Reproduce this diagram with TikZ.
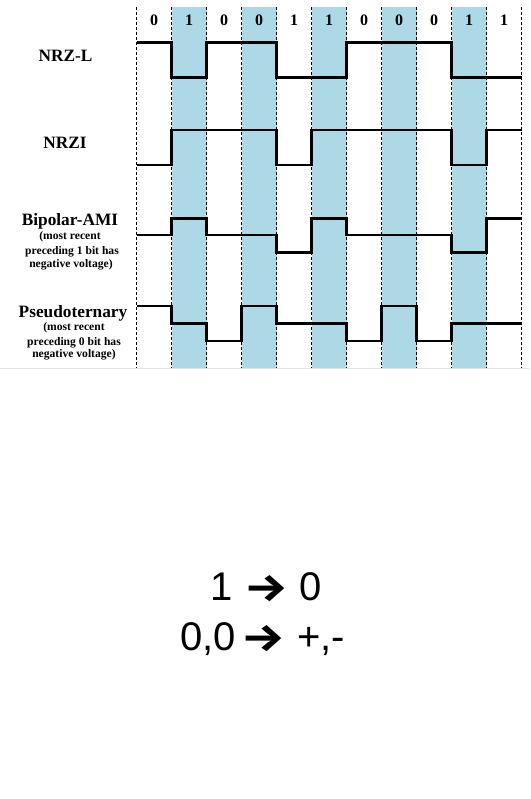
\documentclass[tikz,border=0pt]{standalone}
\usepackage{fontspec}
\setmainfont{Liberation Serif}
\newfontfamily\arial{Liberation Sans}
\newfontfamily\arrowfont{Fira Sans}
\definecolor{bitblue}{HTML}{ADD8E6}
\tikzset{
  gridline/.style={densely dashed, line width=0.8pt, black},
  signal/.style={line width=2.8pt, black, line join=miter},
  bitlabel/.style={font=\bfseries\fontsize{16}{16}\selectfont, anchor=base, inner sep=0pt},
  codelabel/.style={font=\bfseries\fontsize{17.3}{17.3}\selectfont, anchor=base, inner sep=0pt},
  sublabel/.style={font=\bfseries\fontsize{11.6}{11.6}\selectfont, anchor=base, inner sep=0pt},
  bigtext/.style={font=\arial\fontsize{40}{40}\selectfont, anchor=base west, inner sep=0pt}
}
\newcommand{\bigarrow}{{\arrowfont\bfseries\fontsize{49}{49}\selectfont\raisebox{-1.5pt}{\scalebox{1}[0.8]{→}}}}
\begin{document}
\begin{tikzpicture}[x=1pt,y=-1pt]
\useasboundingbox (0,0) rectangle (530,799);
\fill[white] (0,0) rectangle (530,799);
% shaded bit columns
\foreach \i in {1,3,5,7,9}
  \fill[bitblue] (136.7+35*\i,7) rectangle ++(35,361);
% dashed bit boundaries
\foreach \i in {0,...,11}
  \draw[gridline] (136.7+35*\i,7) -- (136.7+35*\i,368);
% bits
\foreach \b [count=\i from 0] in {0,1,0,0,1,1,0,0,0,1,1}
  \node[bitlabel] (bit\i) at (154.2+35*\i,26) {\b};
% faint card edge
\draw[black!10, line width=0.8pt] (0,368.5) -- (530,368.5);
% labels
\node[codelabel] (nrzl) at (65.5,61.7) {NRZ-L};
\node[codelabel] (nrzi) at (65,149) {NRZI};
\node[codelabel] (ami) at (70,226) {Bipolar-AMI};
\node[sublabel] (ami1) at (70,240) {(most recent};
\node[sublabel] (ami2) at (72,254.5) {preceding 1 bit has};
\node[sublabel] (ami3) at (71,267) {negative voltage)};
\node[codelabel] (pse) at (73,317.7) {Pseudoternary};
\node[sublabel] (pse1) at (74,330.5) {(most recent};
\node[sublabel] (pse2) at (74,345.5) {preceding 0 bit has};
\node[sublabel] (pse3) at (74,357.5) {negative voltage)};
% NRZ-L
\draw[signal] (136.7,42.7) -- (171.7,42.7) -- (171.7,77.7) -- (206.7,77.7) -- (206.7,42.7)
  -- (276.7,42.7) -- (276.7,77.7) -- (346.7,77.7) -- (346.7,42.7) -- (451.7,42.7)
  -- (451.7,77.7) -- (521.7,77.7);
% NRZI
\draw[signal] (136.7,165) -- (171.7,165) -- (171.7,130) -- (276.7,130) -- (276.7,165)
  -- (311.7,165) -- (311.7,130) -- (451.7,130) -- (451.7,165) -- (486.7,165)
  -- (486.7,130) -- (521.7,130);
% Bipolar-AMI
\draw[signal] (136.7,235) -- (171.7,235) -- (171.7,218.3) -- (206.7,218.3) -- (206.7,235)
  -- (276.7,235) -- (276.7,252.7) -- (311.7,252.7) -- (311.7,218.3) -- (346.7,218.3)
  -- (346.7,235) -- (451.7,235) -- (451.7,252.7) -- (486.7,252.7) -- (486.7,218.3)
  -- (521.7,218.3);
% Pseudoternary
\draw[signal] (136.7,306) -- (171.7,306) -- (171.7,323.3) -- (206.7,323.3) -- (206.7,341)
  -- (241.7,341) -- (241.7,306) -- (276.7,306) -- (276.7,323.3) -- (346.7,323.3)
  -- (346.7,341) -- (381.7,341) -- (381.7,306) -- (416.7,306) -- (416.7,341)
  -- (451.7,341) -- (451.7,323.3) -- (521.7,323.3);
% bottom text
\node[bigtext] (rule1) at (210.6,600) {1 \bigarrow{} 0};
\node[bigtext] (rule2) at (180,650) {0,0\hspace{6pt}\bigarrow{} +,-};
\end{tikzpicture}
\end{document}
